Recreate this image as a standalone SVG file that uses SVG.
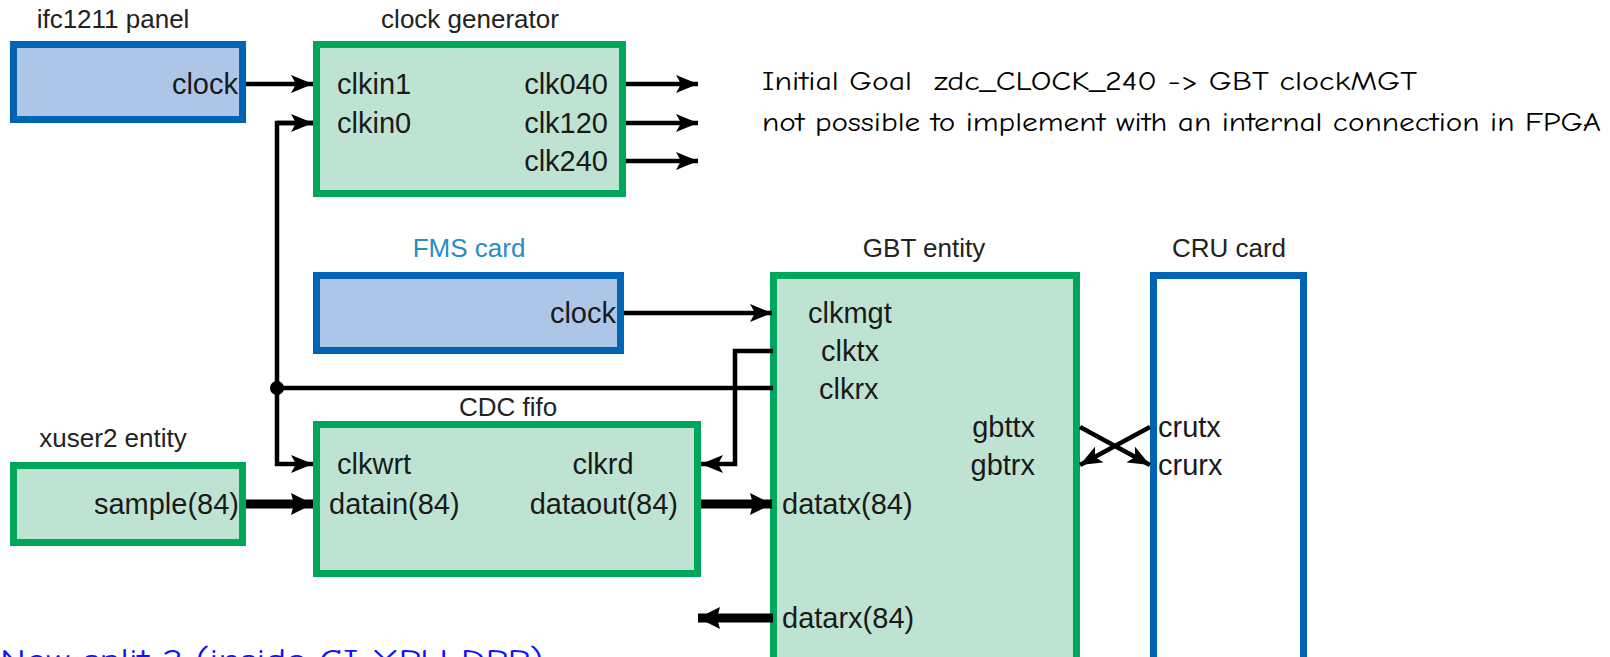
<svg xmlns="http://www.w3.org/2000/svg" width="1610" height="657" viewBox="0 0 1610 657">
<defs>
<marker id="ah" markerUnits="userSpaceOnUse" markerWidth="24" markerHeight="18" refX="22" refY="9" orient="auto">
<path d="M0,0 L22,9 L0,18 L5,9 Z" fill="#000"/>
</marker>
<marker id="ahb" markerUnits="userSpaceOnUse" markerWidth="24" markerHeight="22" refX="22" refY="11" orient="auto">
<path d="M0,0 L22,11 L0,22 L3,11 Z" fill="#000"/>
</marker>
</defs>
<style>
.bbox{fill:#adc6e8;stroke:#0064b4;stroke-width:7}
.gbox{fill:#bfe3d2;stroke:#00a65c;stroke-width:7}
.wbox{fill:#fff;stroke:#0064b4;stroke-width:7}
.t{font-family:"Liberation Sans",Arial,sans-serif;font-size:26px;fill:#222}
.l{font-family:"Liberation Sans",Arial,sans-serif;font-size:29px;fill:#1a1a1a}
.e{text-anchor:end}
.m{text-anchor:middle}
.c{stroke:#000;stroke-width:4.5;fill:none}
.k{stroke:#000;stroke-width:9;fill:none}
.n{font-family:"Comic Sans MS","Comic Neue","DejaVu Sans",sans-serif;font-size:27px;fill:#000}
</style>
<rect width="1610" height="657" fill="#fff"/>

<g id="ifc1211">
<text class="t m" x="113" y="28">ifc1211 panel</text>
<rect class="bbox" x="13.5" y="44.5" width="229" height="75"/>
<text class="l e" x="238" y="94">clock</text>
</g>

<g id="clockgen">
<text class="t m" x="470" y="28">clock generator</text>
<rect class="gbox" x="316.5" y="44.5" width="306" height="149"/>
<text class="l" x="337" y="94">clkin1</text>
<text class="l" x="337" y="133">clkin0</text>
<text class="l e" x="608" y="94">clk040</text>
<text class="l e" x="608" y="133">clk120</text>
<text class="l e" x="608" y="171">clk240</text>
</g>

<g id="fms">
<text class="t m" x="469" y="257" style="fill:#2a8cc4">FMS card</text>
<rect class="bbox" x="316.5" y="275.5" width="304" height="75"/>
<text class="l e" x="616" y="323">clock</text>
</g>

<g id="gbt">
<text class="t m" x="924" y="257">GBT entity</text>
<rect class="gbox" x="773.5" y="275.5" width="303" height="400"/>
<text class="l" x="808" y="323">clkmgt</text>
<text class="l" x="821" y="361">clktx</text>
<text class="l" x="819" y="399">clkrx</text>
<text class="l e" x="1035" y="437">gbttx</text>
<text class="l e" x="1035" y="475">gbtrx</text>
<text class="l" x="782" y="514">datatx(84)</text>
<text class="l" x="782" y="628">datarx(84)</text>
</g>

<g id="cru">
<text class="t m" x="1229" y="257">CRU card</text>
<rect class="wbox" x="1153.5" y="275.5" width="150" height="400"/>
<text class="l" x="1158" y="437">crutx</text>
<text class="l" x="1158" y="475">crurx</text>
</g>

<g id="cdc">
<text class="t m" x="508" y="416">CDC fifo</text>
<rect class="gbox" x="316.5" y="424.5" width="381" height="149"/>
<text class="l" x="337" y="474">clkwrt</text>
<text class="l" x="329" y="514">datain(84)</text>
<text class="l m" x="603" y="474">clkrd</text>
<text class="l e" x="678" y="514">dataout(84)</text>
</g>

<g id="xuser2">
<text class="t m" x="113" y="447">xuser2 entity</text>
<rect class="gbox" x="13.5" y="465.5" width="229" height="77"/>
<text class="l e" x="239" y="514">sample(84)</text>
</g>

<g id="connectors">
<line class="c" x1="246" y1="84" x2="313" y2="84" marker-end="url(#ah)"/>
<line class="c" x1="626" y1="84" x2="698" y2="84" marker-end="url(#ah)"/>
<line class="c" x1="626" y1="123" x2="698" y2="123" marker-end="url(#ah)"/>
<line class="c" x1="626" y1="161" x2="698" y2="161" marker-end="url(#ah)"/>
<polyline class="c" points="313,123 277,123 277,464 313,464" marker-end="url(#ah)"/>
<path class="c" d="M277,123 L313,123" marker-end="url(#ah)"/>
<line class="c" x1="277" y1="388" x2="773" y2="388"/>
<circle cx="277" cy="388" r="7" fill="#000"/>
<line class="c" x1="624" y1="313" x2="772" y2="313" marker-end="url(#ah)"/>
<polyline class="c" points="773,351 735,351 735,464 701,464" marker-end="url(#ah)"/>
<line class="k" x1="246" y1="504" x2="313" y2="504" marker-end="url(#ahb)"/>
<line class="k" x1="701" y1="504" x2="772" y2="504" marker-end="url(#ahb)"/>
<line class="k" x1="773" y1="618" x2="698" y2="618" marker-end="url(#ahb)"/>
<line class="c" x1="1080" y1="427" x2="1150" y2="465" marker-end="url(#ah)"/>
<line class="c" x1="1150" y1="427" x2="1080" y2="465" marker-end="url(#ah)"/>
</g>

<g id="notes">
<text class="n" x="762" y="90" textLength="150" lengthAdjust="spacingAndGlyphs">Initial Goal</text>
<text class="n" x="934" y="90" textLength="483" lengthAdjust="spacingAndGlyphs">zdc_CLOCK_240 -&gt; GBT clockMGT</text>
<text class="n" x="762" y="131" textLength="839" lengthAdjust="spacingAndGlyphs">not possible to implement with an internal connection in FPGA</text>
<text class="n" x="0" y="670" textLength="543" lengthAdjust="spacingAndGlyphs" style="fill:#1010ff;font-size:30px">Now split 2 (inside CI XPU DPP)</text>
</g>
</svg>
